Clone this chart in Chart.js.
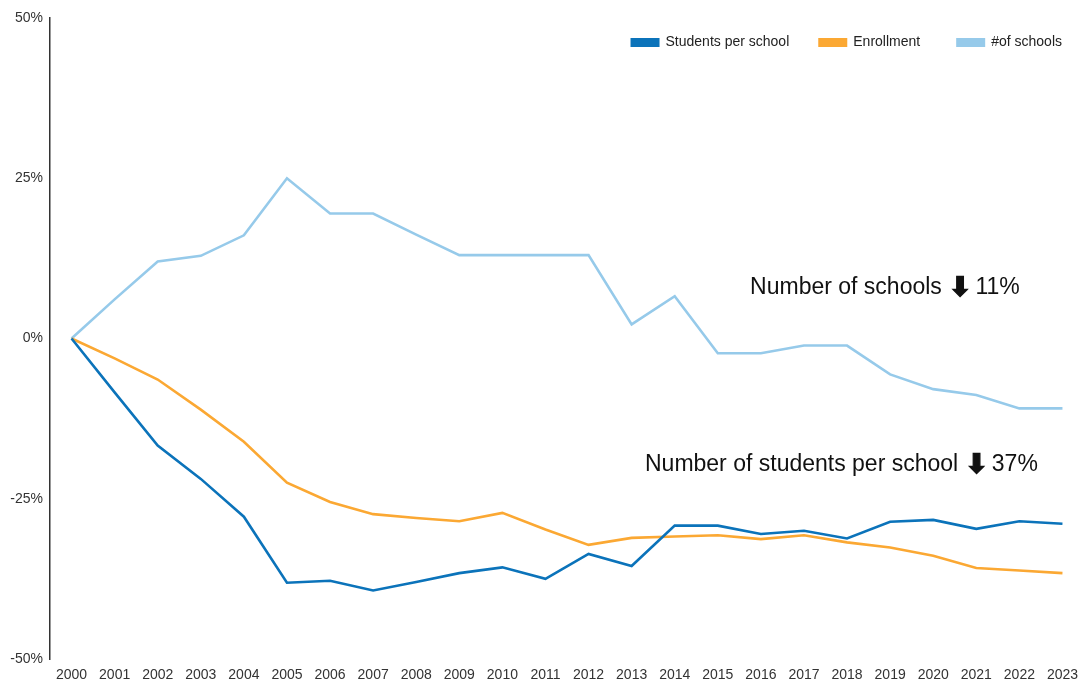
<!DOCTYPE html>
<html>
<head>
<meta charset="utf-8">
<script src="https://cdn.jsdelivr.net/npm/chart.js@4.4.1/dist/chart.umd.min.js"></script>
<style>
  body { margin: 0; background: #fff; }
  #wrap { width: 1084px; height: 681px; }
</style>
</head>
<body>
<div id="wrap"><canvas id="myChart" width="1084" height="681"></canvas></div>
<script>
var years = ["2000", "2001", "2002", "2003", "2004", "2005", "2006", "2007", "2008", "2009", "2010", "2011",
  "2012", "2013", "2014", "2015", "2016", "2017", "2018", "2019", "2020", "2021", "2022", "2023"];
var studentsPerSchool = [0, -8.4, -16.7, -21.9, -27.8, -38.1, -37.8, -39.3, -38.0, -36.6, -35.7, -37.5,
  -33.6, -35.5, -29.2, -29.2, -30.5, -30.0, -31.2, -28.6, -28.3, -29.7, -28.5, -28.9];
var enrollment = [0, -3.1, -6.4, -11.1, -16.1, -22.5, -25.5, -27.4, -28.0, -28.5, -27.2, -29.8,
  -32.2, -31.1, -30.9, -30.7, -31.3, -30.7, -31.8, -32.6, -33.9, -35.8, -36.2, -36.6];
var numSchools = [0, 6.1, 12.0, 12.9, 16.1, 25.0, 19.5, 19.5, 16.2, 13.0, 13.0, 13.0,
  13.0, 2.2, 6.6, -2.3, -2.3, -1.1, -1.1, -5.6, -7.9, -8.8, -10.9, -10.9];
var yTickValues = [-50, -25, 0, 25, 50];
// each note: text before the arrow, the arrow, text after
var notes = [
  ["Number of schools", "\u2B07", "11%"],
  ["Number of students per school", "\u2B07", "37%"],
];

var FONT = "'Liberation Sans', Arial, Helvetica, sans-serif";

// legend drawn by hand so it can sit inside the plot area, top right
var cornerLegend = {
  id: "cornerLegend",
  afterDraw: function (chart) {
    var ctx = chart.ctx;
    var sets = chart.data.datasets;
    ctx.save();
    ctx.font = "14px " + FONT;
    ctx.textBaseline = "middle";
    ctx.textAlign = "left";
    var boxW = 29, boxH = 9, gap = 6, spacing = [29, 36];
    var total = 0;
    sets.forEach(function (ds, i) {
      total += boxW + gap + ctx.measureText(ds.label).width + (i < sets.length - 1 ? spacing[i] : 0);
    });
    var x = 1062 - total;
    var y = 42.5;
    sets.forEach(function (ds, i) {
      ctx.fillStyle = ds.borderColor;
      ctx.fillRect(x, y - boxH / 2, boxW, boxH);
      ctx.fillStyle = "#222";
      ctx.fillText(ds.label, x + boxW + gap, y);
      x += boxW + gap + ctx.measureText(ds.label).width + (spacing[i] || 0);
    });
    ctx.restore();
  },
};

// text notes placed through the scales
var notesPlugin = {
  id: "notesPlugin",
  afterDraw: function (chart) {
    var ctx = chart.ctx;
    var xs = chart.scales.x, ys = chart.scales.y;
    var spots = [
      { x: 15.75, y: 6.9 },
      { x: 13.31, y: -20.7 },
    ];
    ctx.save();
    ctx.fillStyle = "#111";
    ctx.strokeStyle = "#111";
    ctx.textAlign = "left";
    ctx.textBaseline = "alphabetic";
    notes.forEach(function (n, i) {
      var x = xs.getPixelForValue(spots[i].x);
      var y = ys.getPixelForValue(spots[i].y);
      ctx.font = "23px " + FONT;
      ctx.fillText(n[0], x, y);
      x += ctx.measureText(n[0]).width + 7;
      ctx.font = "bold 27px 'DejaVu Sans', sans-serif";
      ctx.lineWidth = 1.2;
      ctx.fillText(n[1], x, y + 2);
      ctx.strokeText(n[1], x, y + 2);
      x += ctx.measureText(n[1]).width + 4;
      ctx.font = "23px " + FONT;
      ctx.fillText(n[2], x, y);
    });
    ctx.restore();
  },
};

var ctx = document.getElementById("myChart").getContext("2d");
var myChart = new Chart(ctx, {
  type: "line",
  data: {
    labels: years,
    datasets: [
      {
        label: "Students per school",
        data: studentsPerSchool,
        borderColor: "#0B73BA",
        backgroundColor: "#0B73BA",
        borderWidth: 2.6,
      },
      {
        label: "Enrollment",
        data: enrollment,
        borderColor: "#FBA833",
        backgroundColor: "#FBA833",
        borderWidth: 2.6,
      },
      {
        label: "#of schools",
        data: numSchools,
        borderColor: "#96CAEA",
        backgroundColor: "#96CAEA",
        borderWidth: 2.6,
      },
    ],
  },
  options: {
    responsive: false,
    animation: false,
    layout: {
      padding: { top: 18, right: 0, bottom: 0, left: 0 },
    },
    elements: {
      point: { radius: 0, hoverRadius: 0 },
      line: { tension: 0 },
    },
    plugins: {
      legend: { display: false },
      tooltip: { enabled: false },
    },
    scales: {
      x: {
        offset: true,
        grid: { display: false, drawTicks: false },
        border: { display: false },
        ticks: {
          autoSkip: false,
          maxRotation: 0,
          padding: 8,
          color: "#333",
          font: { family: FONT, size: 14 },
        },
        afterFit: function (scale) {
          scale.height = 22;
          scale.paddingLeft = 0;
          scale.paddingRight = 0;
        },
      },
      y: {
        min: -50,
        max: 50,
        grid: { display: false, drawTicks: false },
        border: { display: true, color: "#333", width: 1.5 },
        afterBuildTicks: function (scale) {
          scale.ticks = yTickValues.map(function (v) { return { value: v }; });
        },
        ticks: {
          padding: 7,
          color: "#333",
          font: { family: FONT, size: 14 },
          callback: function (v) {
            return v + "%";
          },
        },
        afterFit: function (scale) {
          scale.width = 50;
        },
      },
    },
  },
  plugins: [cornerLegend, notesPlugin],
});
</script>
</body>
</html>
